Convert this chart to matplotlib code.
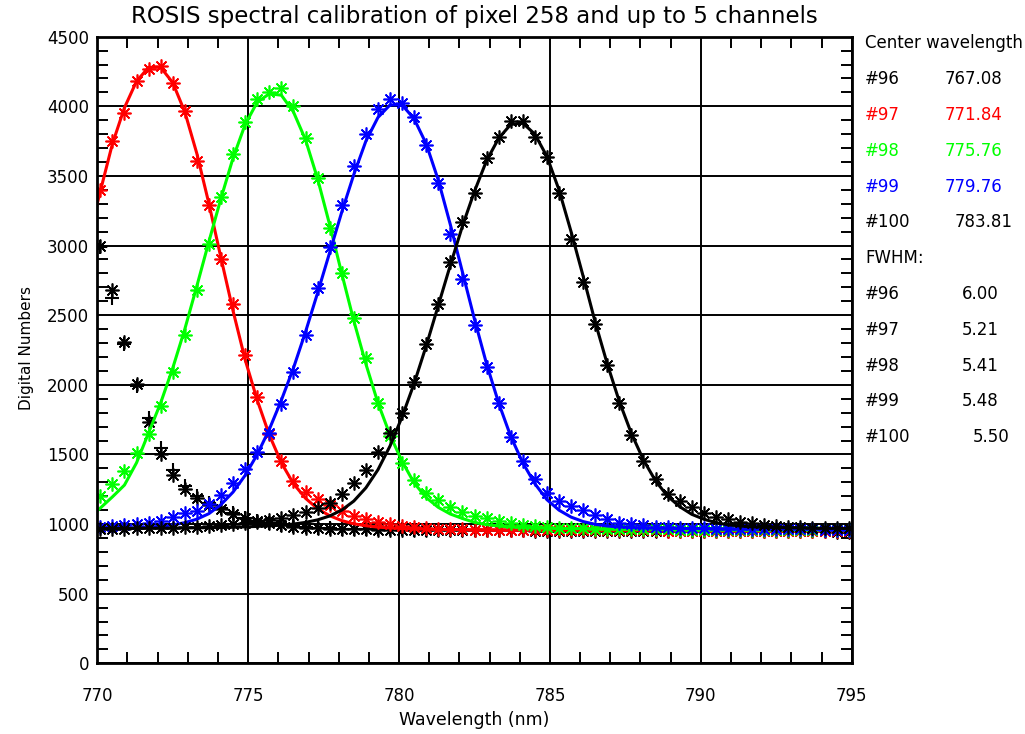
import matplotlib
matplotlib.use("Agg")
import matplotlib.pyplot as plt
from matplotlib.ticker import MultipleLocator

# ---------------- data ----------------
wavelength = [770.1, 770.5, 770.9, 771.3, 771.7, 772.1, 772.5, 772.9, 773.3, 773.7,
              774.1, 774.5, 774.9, 775.3, 775.7, 776.1, 776.5, 776.9, 777.3, 777.7,
              778.1, 778.5, 778.9, 779.3, 779.7, 780.1, 780.5, 780.9, 781.3, 781.7,
              782.1, 782.5, 782.9, 783.3, 783.7, 784.1, 784.5, 784.9, 785.3, 785.7,
              786.1, 786.5, 786.9, 787.3, 787.7, 788.1, 788.5, 788.9, 789.3, 789.7,
              790.1, 790.5, 790.9, 791.3, 791.7, 792.1, 792.5, 792.9, 793.3, 793.7,
              794.1, 794.5, 794.9]
fit_wavelength = [769.7] + wavelength

ch96_meas = [3000, 2680, 2305, 2005, 1730, 1500, 1355, 1250, 1185, 1140,
             1105, 1070, 1040, 1020, 1005, 992, 982, 975, 970, 967,
             965, 963, 962, 960, 960, 958, 958, 957, 957, 956,
             956, 955, 955, 955, 954, 954, 953, 953, 953, 952,
             952, 952, 951, 951, 951, 950, 950, 950, 950, 949,
             949, 949, 949, 948, 948, 948, 948, 947, 947, 947,
             947, 946, 946]
ch96_plus = [2990, 2620, 2290, 1995, 1760, 1545, 1390, 1275, 1200, 1150,
             1112, 1078, 1046, 1024, 1008, 996, 986, 979, 974, 970,
             968, 966, 965, 963, 962, 961, 960, 960, 959, 959,
             958, 958, 957, 957, 957, 956, 956, 956, 955, 955,
             955, 955, 954, 954, 954, 954, 953, 953, 953, 953,
             952, 952, 952, 952, 951, 951, 951, 951, 950, 950,
             950, 950, 950]

ch97_meas = [3400, 3750, 3950, 4185, 4265, 4290, 4170, 3965, 3605, 3290,
             2900, 2580, 2215, 1910, 1650, 1450, 1310, 1230, 1180, 1135,
             1095, 1058, 1034, 1017, 1001, 988, 981, 972, 966, 963,
             961, 960, 959, 958, 958, 957, 957, 956, 956, 956,
             955, 955, 955, 954, 954, 954, 954, 953, 953, 953,
             953, 952, 952, 952, 952, 951, 951, 951, 951, 950,
             950, 950, 950]
ch97_fit = [3040, 3390, 3730, 3990, 4180, 4280, 4280, 4170, 3960, 3660,
            3300, 2910, 2530, 2180, 1890, 1640, 1440, 1290, 1185, 1110,
            1060, 1025, 1002, 988, 978, 972, 968, 965, 963, 962,
            961, 960, 960, 960, 959, 959, 959, 959, 958, 958,
            958, 958, 958, 957, 957, 957, 957, 957, 957, 956,
            956, 956, 956, 956, 956, 956, 955, 955, 955, 955,
            955, 955, 955, 955]

ch98_meas = [1205, 1285, 1380, 1510, 1650, 1850, 2090, 2360, 2680, 3010,
             3350, 3655, 3885, 4050, 4100, 4130, 4000, 3770, 3485, 3125,
             2805, 2480, 2190, 1870, 1630, 1440, 1315, 1220, 1175, 1125,
             1090, 1055, 1040, 1025, 1005, 995, 986, 980, 975, 972,
             970, 968, 966, 965, 964, 963, 962, 961, 960, 960,
             959, 959, 958, 958, 957, 957, 957, 956, 956, 956,
             955, 955, 955]
ch98_fit = [1040, 1115, 1195, 1280, 1440, 1655, 1870, 2120, 2400, 2710,
            3030, 3340, 3630, 3870, 4030, 4090, 4080, 3960, 3760, 3480,
            3150, 2800, 2460, 2150, 1870, 1640, 1450, 1295, 1190, 1120,
            1072, 1040, 1012, 996, 986, 979, 975, 972, 970, 969,
            968, 967, 967, 966, 966, 965, 965, 965, 964, 964,
            964, 964, 963, 963, 963, 963, 963, 962, 962, 962,
            962, 962, 962, 962]

ch99_meas = [982, 985, 990, 1000, 1006, 1024, 1049, 1078, 1096, 1144,
             1209, 1293, 1394, 1520, 1657, 1863, 2095, 2358, 2694, 2993,
             3292, 3570, 3800, 3980, 4052, 4027, 3922, 3723, 3448, 3080,
             2760, 2430, 2130, 1868, 1626, 1456, 1322, 1221, 1169, 1130,
             1101, 1065, 1034, 1010, 1001, 994, 982, 978, 975, 972,
             970, 968, 967, 966, 965, 964, 963, 962, 962, 961,
             960, 960, 959]
ch99_fit = [966, 967, 969, 971, 974, 978, 984, 994, 1010, 1035,
            1075, 1140, 1230, 1350, 1500, 1680, 1890, 2120, 2380, 2660,
            2950, 3240, 3510, 3750, 3920, 4010, 4010, 3910, 3730, 3470,
            3150, 2810, 2470, 2150, 1870, 1630, 1440, 1290, 1175, 1100,
            1050, 1018, 998, 986, 979, 975, 972, 970, 969, 968,
            968, 967, 967, 966, 966, 966, 965, 965, 965, 965,
            964, 964, 964, 964]

ch100_meas = [965, 966, 968, 969, 970, 972, 974, 976, 980, 985,
              990, 998, 1008, 1018, 1030, 1045, 1065, 1089, 1113, 1149,
              1214, 1293, 1389, 1520, 1652, 1800, 2020, 2290, 2580, 2880,
              3170, 3381, 3628, 3779, 3891, 3898, 3779, 3635, 3376, 3050,
              2740, 2440, 2140, 1868, 1640, 1456, 1322, 1216, 1168, 1121,
              1078, 1053, 1034, 1017, 1006, 994, 986, 980, 977, 975,
              973, 972, 970]
ch100_fit = [968, 968, 969, 969, 970, 970, 971, 971, 972, 973,
             974, 975, 977, 980, 983, 987, 992, 1000, 1012, 1030,
             1058, 1100, 1165, 1260, 1390, 1560, 1770, 2010, 2280, 2570,
             2860, 3140, 3390, 3610, 3770, 3870, 3880, 3800, 3640, 3400,
             3100, 2780, 2450, 2150, 1880, 1650, 1460, 1310, 1200, 1125,
             1070, 1035, 1010, 995, 986, 980, 977, 975, 973, 972,
             971, 970, 970, 969]

channels = ["#96", "#97", "#98", "#99", "#100"]
center_wl = ["767.08", "771.84", "775.76", "779.76", "783.81"]
fwhm = ["6.00", "5.21", "5.41", "5.48", "5.50"]
colors = ["black", "#ff0000", "#00ff00", "#0000ff", "black"]

x_ticks = [770, 775, 780, 785, 790, 795]
y_ticks = [0, 500, 1000, 1500, 2000, 2500, 3000, 3500, 4000, 4500]

# ---------------- figure ----------------
W, H = 1025, 734
fig = plt.figure(figsize=(W / 100, H / 100), dpi=100)
L, R, T, B = 97.3, 851.7, 36.7, 663.3
ax = fig.add_axes([L / W, 1 - B / H, (R - L) / W, (B - T) / H])

ast = (8, 2, 0)
mkw = dict(markersize=10, markeredgewidth=1.2, linestyle="none")

# channel 96 (only measured points)
ax.plot(wavelength, ch96_meas, marker=ast, color="black", **mkw)
ax.plot(wavelength, ch96_plus, marker="+", color="black", markersize=10,
        markeredgewidth=1.5, linestyle="none")

series = [(ch97_meas, ch97_fit, colors[1]),
          (ch98_meas, ch98_fit, colors[2]),
          (ch99_meas, ch99_fit, colors[3]),
          (ch100_meas, ch100_fit, colors[4])]
for meas, fit, col in series:
    ax.plot(wavelength, meas, marker=ast, color=col, **mkw)
    ax.plot(fit_wavelength, fit, color=col, linewidth=2.2)

ax.set_xlim(770, 795)
ax.set_ylim(0, 4500)
ax.set_xticks(x_ticks)
ax.set_yticks(y_ticks)
ax.set_xticklabels([str(v) for v in x_ticks])
ax.set_yticklabels([str(v) for v in y_ticks])
ax.xaxis.set_minor_locator(MultipleLocator(1))
ax.yaxis.set_minor_locator(MultipleLocator(100))
ax.grid(True, which="major", color="black", linewidth=1.4)
ax.set_axisbelow(True)
ax.tick_params(which="major", length=0, labelsize=12, colors="black")
ax.tick_params(axis="x", which="major", pad=17)
ax.tick_params(axis="y", which="major", pad=6)
ax.tick_params(which="minor", direction="in", length=8, width=1.4,
               top=True, right=True, bottom=True, left=True)
for s in ax.spines.values():
    s.set_linewidth(2.0)
    s.set_color("black")

def ftext(x, y, s, **kw):
    fig.text(x / W, 1 - y / H, s, **kw)

ftext(474, 17, "ROSIS spectral calibration of pixel 258 and up to 5 channels",
      ha="center", va="center", fontsize=16.5)
ftext(474, 720, "Wavelength (nm)", ha="center", va="center", fontsize=12.5)
ftext(27, 348, "Digital Numbers", ha="center", va="center", rotation=90,
      fontsize=11)

# right-hand annotation panel
ftext(865, 43.3, "Center wavelength", ha="left", va="center", fontsize=12)
row_y = [79.3, 115.0, 151.0, 186.7, 222.3]
val_x = [945, 945, 945, 945, 955]
for i in range(5):
    ftext(865, row_y[i], channels[i], ha="left", va="center", fontsize=12,
          color=colors[i])
    ftext(val_x[i], row_y[i], center_wl[i], ha="left", va="center",
          fontsize=12, color=colors[i])
ftext(865, 258.3, "FWHM:", ha="left", va="center", fontsize=12)
frow_y = [294.0, 330.0, 365.7, 401.0, 436.7]
fval_x = [962, 962, 962, 962, 973]
for i in range(5):
    ftext(865, frow_y[i], channels[i], ha="left", va="center", fontsize=12)
    ftext(fval_x[i], frow_y[i], fwhm[i], ha="left", va="center", fontsize=12)

fig.savefig("out.png", dpi=100, facecolor="white")
